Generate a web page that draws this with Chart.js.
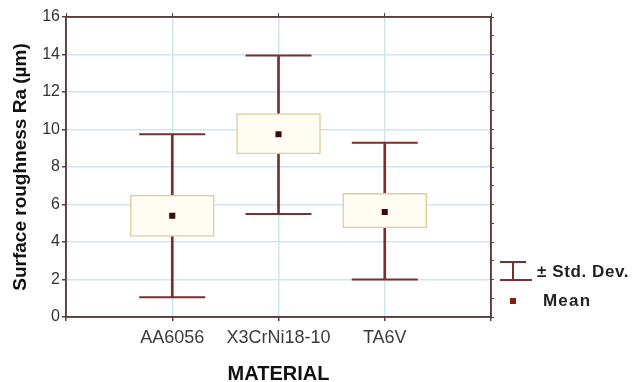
<!DOCTYPE html>
<html>
<head>
<meta charset="utf-8">
<script src="https://cdn.jsdelivr.net/npm/chart.js@4"></script>
<style>
  html, body { margin: 0; padding: 0; background: #fff; }
  #wrap { position: relative; width: 635px; height: 382px; }
  canvas { display: block; }
  .leg { position: absolute; font-family: "Liberation Sans", Arial, sans-serif; font-weight: bold; font-size: 17px; color: #222; white-space: nowrap; }
</style>
</head>
<body>
<div id="wrap">
  <canvas id="c" width="635" height="382"></canvas>
  <svg style="position:absolute;left:498px;top:259px" width="36" height="24">
    <line x1="2" y1="3" x2="28" y2="3" stroke="#7a2e2e" stroke-width="2"/>
    <line x1="15" y1="3" x2="15" y2="21" stroke="#7a2e2e" stroke-width="2"/>
    <line x1="2" y1="21" x2="34" y2="21" stroke="#7a2e2e" stroke-width="2"/>
  </svg>
  <div class="leg" style="left:537px;top:262px;letter-spacing:0.6px">± Std. Dev.</div>
  <div style="position:absolute;left:510px;top:298px;width:6px;height:6px;background:#8a1c1c"></div>
  <div class="leg" style="left:543px;top:291px;letter-spacing:1.2px">Mean</div>
</div>
<script>
const categories = ['AA6056', 'X3CrNi18-10', 'TA6V'];
const means  = [5.4, 9.75, 5.6];
const boxLow  = [4.3, 8.7, 4.75];
const boxHigh = [6.5, 10.85, 6.6];
const sdLow  = [1.05, 5.5, 2.0];
const sdHigh = [9.75, 13.95, 9.3];
const yTicks = [0, 2, 4, 6, 8, 10, 12, 14, 16];

const axisLabels = ['', ...categories, ''];
const frameColor = '#5e3a3a';
const gridColor = '#cfe5ef';
const font = '"Liberation Sans", Arial, sans-serif';

const frame = {
  id: 'frame',
  afterDatasetsDraw(chart) {
    const a = chart.chartArea, ctx = chart.ctx;
    ctx.save();
    ctx.strokeStyle = frameColor;
    ctx.lineWidth = 1.5;
    ctx.strokeRect(a.left, a.top, a.right - a.left, a.bottom - a.top);
    ctx.restore();
  }
};

new Chart(document.getElementById('c'), {
  type: 'bar',
  data: {
    labels: axisLabels,
    datasets: [
      {
        type: 'bar', label: 'SD', order: 4, grouped: false,
        data: categories.map((c, i) => ({ x: c, y: [sdLow[i], sdHigh[i]] })),
        backgroundColor: '#7a2e2e', borderWidth: 0, barThickness: 2
      },
      {
        type: 'line', label: 'caps', order: 3, showLine: false,
        data: categories.flatMap((c, i) => [{ x: c, y: sdLow[i] }, { x: c, y: sdHigh[i] }]),
        pointStyle: 'line', pointRadius: 33, pointHoverRadius: 33,
        borderColor: '#7a2e2e', borderWidth: 2
      },
      {
        type: 'bar', label: 'box', order: 2, grouped: false,
        data: categories.map((c, i) => ({ x: c, y: [boxLow[i], boxHigh[i]] })),
        backgroundColor: '#fffdf3', borderColor: '#dccf9c', borderWidth: 1.5,
        borderSkipped: false, barThickness: 84
      },
      {
        type: 'line', label: 'Mean', order: 1, showLine: false,
        data: categories.map((c, i) => ({ x: c, y: means[i] })),
        pointStyle: 'rect', pointRadius: 4.3, pointHoverRadius: 4.3,
        backgroundColor: '#3a0e0e', borderColor: '#3a0e0e', borderWidth: 0
      }
    ]
  },
  options: {
    responsive: false,
    animation: false,
    layout: { autoPadding: false, padding: { left: 0, top: 13, right: 140, bottom: 0 } },
    plugins: { legend: { display: false }, tooltip: { enabled: false } },
    scales: {
      x: {
        type: 'category', labels: axisLabels, offset: false, position: 'bottom',
        grid: {
          offset: false,
          color: ctx => (ctx.index === 0 || ctx.index === axisLabels.length - 1) ? 'rgba(0,0,0,0)' : gridColor,
          lineWidth: 1.5, tickColor: frameColor, tickLength: 4
        },
        border: { color: frameColor, width: 1.5 },
        ticks: { color: '#3c3c3c', font: { family: font, size: 18 }, padding: 6, maxRotation: 0, autoSkip: false },
        title: { display: true, text: 'MATERIAL', color: '#111', font: { family: font, size: 20, weight: 'bold', lineHeight: 0.8 }, padding: { top: 0, bottom: 0 } },
        afterFit: s => { s.height = 65; s.paddingLeft = 0; s.paddingRight = 0; }
      },
      x2: {
        type: 'category', labels: axisLabels, offset: false, position: 'top',
        grid: { offset: false, drawOnChartArea: false, tickColor: frameColor, tickLength: 4 },
        border: { color: frameColor, width: 1.5 },
        ticks: { display: false },
        afterFit: s => { s.height = 4; }
      },
      y: {
        type: 'linear', min: 0, max: 16,
        afterBuildTicks: s => { s.ticks = yTicks.map(v => ({ value: v })); },
        grid: {
          color: ctx => (ctx.tick && (ctx.tick.value === 0 || ctx.tick.value === 16)) ? 'rgba(0,0,0,0)' : gridColor,
          lineWidth: 1.5, tickColor: frameColor, tickLength: 4
        },
        border: { color: frameColor, width: 1.5 },
        ticks: { color: '#333', font: { family: font, size: 16 }, padding: 2 },
        title: { display: true, text: 'Surface roughness Ra (µm)', color: '#111', font: { family: font, size: 19, weight: 'bold' }, padding: { top: 9, bottom: 0 } },
        afterFit: s => { s.width = 66; s.paddingTop = 0; s.paddingBottom = 0; }
      },
      y2: {
        type: 'linear', min: 0, max: 16, position: 'right',
        ticks: { display: false, stepSize: 1 },
        grid: { drawOnChartArea: false, tickColor: frameColor, tickLength: 3 },
        border: { color: frameColor, width: 1.5 },
        afterFit: s => { s.width = 4; s.paddingTop = 0; s.paddingBottom = 0; }
      }
    }
  },
  plugins: [frame]
});
</script>
</body>
</html>
